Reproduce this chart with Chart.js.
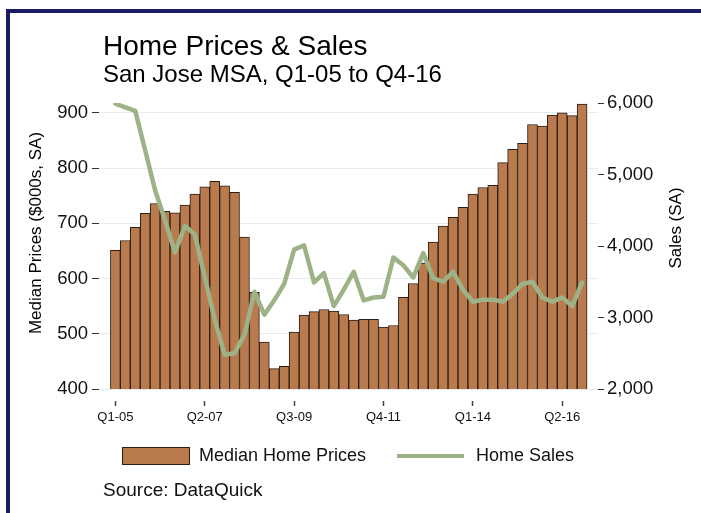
<!DOCTYPE html>
<html><head><meta charset="utf-8">
<script src="https://cdn.jsdelivr.net/npm/chart.js@4.4.1/dist/chart.umd.min.js"></script>
<style>html,body{margin:0;padding:0;background:#fff;overflow:hidden}canvas{display:block}</style>
</head><body>
<canvas id="c" width="701" height="513"></canvas>
<script>
const quarters = ['Q1-05','Q2-05','Q3-05','Q4-05','Q1-06','Q2-06','Q3-06','Q4-06',
  'Q1-07','Q2-07','Q3-07','Q4-07','Q1-08','Q2-08','Q3-08','Q4-08',
  'Q1-09','Q2-09','Q3-09','Q4-09','Q1-10','Q2-10','Q3-10','Q4-10',
  'Q1-11','Q2-11','Q3-11','Q4-11','Q1-12','Q2-12','Q3-12','Q4-12',
  'Q1-13','Q2-13','Q3-13','Q4-13','Q1-14','Q2-14','Q3-14','Q4-14',
  'Q1-15','Q2-15','Q3-15','Q4-15','Q1-16','Q2-16','Q3-16','Q4-16'];
const medianPrices = [651,669,693,718,736,722,719,733,753,766,776,768,756,675,575,485,
  437,441,503,534,540,544,541,535,525,526,526,512,515,566,591,628,
  666,695,711,729,753,765,769,810,834,845,879,876,896,900,895,916];
const homeSales = [5990,5940,5890,5340,4780,4360,3910,4280,4160,3570,2970,2480,2500,2760,3360,3040,
  3240,3470,3950,4010,3490,3620,3160,3390,3640,3240,3280,3290,3840,3730,3560,3900,
  3550,3500,3640,3390,3220,3250,3250,3220,3330,3470,3500,3280,3220,3280,3160,3490];
const xTickLabels = ['Q1-05','Q2-07','Q3-09','Q4-11','Q1-14','Q2-16'];
const priceTicks = [400,500,600,700,800,900];
const salesTicks = [2000,3000,4000,5000,6000];

const FONT = "'Liberation Sans', Arial, Helvetica, sans-serif";
Chart.defaults.font.family = FONT;
Chart.defaults.color = '#111';

const BAR_COLOR = '#b97a4e';
const BAR_EDGE = '#2b1d12';
const LINE_COLOR = '#9db387';
const X_MIN = -1.65, X_MAX = 48.6;

const decor = {
  id: 'decor',
  beforeDraw(chart) {
    const ctx = chart.ctx;
    ctx.save();
    ctx.fillStyle = '#fff';
    ctx.fillRect(0, 0, chart.width, chart.height);
    ctx.fillStyle = '#1c1c66';
    ctx.fillRect(6, 9, chart.width - 6, 4);
    ctx.fillRect(6, 9, 4, chart.height - 9);
    ctx.restore();
  },
  afterDraw(chart) {
    const ctx = chart.ctx;
    ctx.save();
    ctx.fillStyle = '#000';
    ctx.textAlign = 'left';
    ctx.textBaseline = 'alphabetic';
    ctx.font = '28px ' + FONT;
    ctx.fillText('Home Prices & Sales', 103, 55);
    ctx.font = '24px ' + FONT;
    ctx.fillText('San Jose MSA, Q1-05 to Q4-16', 103, 82);

    // axis titles
    ctx.font = '17px ' + FONT;
    ctx.textAlign = 'center';
    ctx.textBaseline = 'middle';
    ctx.save();
    ctx.translate(36, 233);
    ctx.rotate(-Math.PI / 2);
    ctx.fillText('Median Prices ($000s, SA)', 0, 0);
    ctx.restore();
    ctx.save();
    ctx.translate(676, 228);
    ctx.rotate(-Math.PI / 2);
    ctx.fillText('Sales (SA)', 0, 0);
    ctx.restore();

    // legend
    const ds = chart.data.datasets;
    ctx.fillStyle = ds[0].backgroundColor;
    ctx.fillRect(122, 447, 67, 18);
    ctx.strokeStyle = BAR_EDGE;
    ctx.lineWidth = 1;
    ctx.strokeRect(122.5, 447.5, 67, 17);
    ctx.fillStyle = '#111';
    ctx.textAlign = 'left';
    ctx.font = '18px ' + FONT;
    ctx.fillText(ds[0].label, 199, 456);
    ctx.strokeStyle = ds[1].borderColor;
    ctx.lineWidth = 4;
    ctx.beginPath();
    ctx.moveTo(397, 456);
    ctx.lineTo(464, 456);
    ctx.stroke();
    ctx.fillText(ds[1].label, 476, 456);
    ctx.font = '19px ' + FONT;
    ctx.fillText('Source: DataQuick', 103, 491);
    ctx.restore();
  }
};

const priceData = medianPrices.map((v, i) => ({x: i, y: v}));
const salesData = homeSales.map((v, i) => ({x: i, y: v}));
const xTickValues = xTickLabels.map(q => quarters.indexOf(q));

new Chart(document.getElementById('c'), {
  type: 'bar',
  data: {
    datasets: [
      {
        type: 'bar',
        label: 'Median Home Prices',
        data: priceData,
        backgroundColor: BAR_COLOR,
        borderColor: BAR_EDGE,
        borderWidth: 1,
        barPercentage: 1,
        categoryPercentage: 1,
        xAxisID: 'x',
        yAxisID: 'yPrice',
        order: 2
      },
      {
        type: 'line',
        label: 'Home Sales',
        data: salesData,
        borderColor: LINE_COLOR,
        backgroundColor: LINE_COLOR,
        borderWidth: 4.5,
        pointRadius: 0,
        tension: 0,
        borderJoinStyle: 'round',
        borderCapStyle: 'round',
        xAxisID: 'x',
        yAxisID: 'ySales',
        order: 1
      }
    ]
  },
  options: {
    responsive: false,
    animation: false,
    devicePixelRatio: 1,
    layout: {padding: {top: 103, left: 10, right: 0, bottom: 0}},
    plugins: {legend: {display: false}, tooltip: {enabled: false}},
    scales: {
      x: {
        type: 'linear',
        position: 'bottom',
        weight: 0,
        min: X_MIN,
        max: X_MAX,
        offset: false,
        afterFit(axis) { axis.height = 12; },
        grid: {offset: false, drawOnChartArea: false, drawTicks: false},
        border: {display: false},
        ticks: {display: false}
      },
      xLabels: {
        type: 'linear',
        position: 'bottom',
        weight: 1,
        min: X_MIN,
        max: X_MAX,
        offset: false,
        afterFit(axis) { axis.height = 513 - 389 - 12; },
        afterBuildTicks(axis) { axis.ticks = xTickValues.map(v => ({value: v})); },
        grid: {offset: false, drawOnChartArea: false, tickLength: 5, tickColor: '#444', tickWidth: 1.5},
        border: {display: false},
        ticks: {
          autoSkip: false, maxRotation: 0, padding: 4,
          font: {size: 13}, color: '#111',
          callback: (v) => quarters[v] ?? ''
        }
      },
      yPrice: {
        type: 'linear',
        position: 'left',
        min: 400,
        max: 918,
        afterFit(axis) { axis.width = 99 - 10; },
        afterBuildTicks(axis) { axis.ticks = priceTicks.map(v => ({value: v})); },
        grid: {color: '#e3ecf1', lineWidth: 1, tickLength: 7, tickColor: '#333', tickWidth: 1},
        border: {display: false},
        ticks: {padding: 4, font: {size: 18.5}, color: '#111'}
      },
      ySales: {
        type: 'linear',
        position: 'right',
        min: 2000,
        max: 6000,
        afterFit(axis) { axis.width = 701 - 598; },
        afterBuildTicks(axis) { axis.ticks = salesTicks.map(v => ({value: v})); },
        grid: {drawOnChartArea: false, tickLength: 6, tickColor: '#333', tickWidth: 1},
        border: {display: false},
        ticks: {padding: 3, font: {size: 18.5}, color: '#111',
          callback: (v) => v.toLocaleString('en-US')}
      }
    }
  },
  plugins: [decor]
});
</script>
</body></html>
